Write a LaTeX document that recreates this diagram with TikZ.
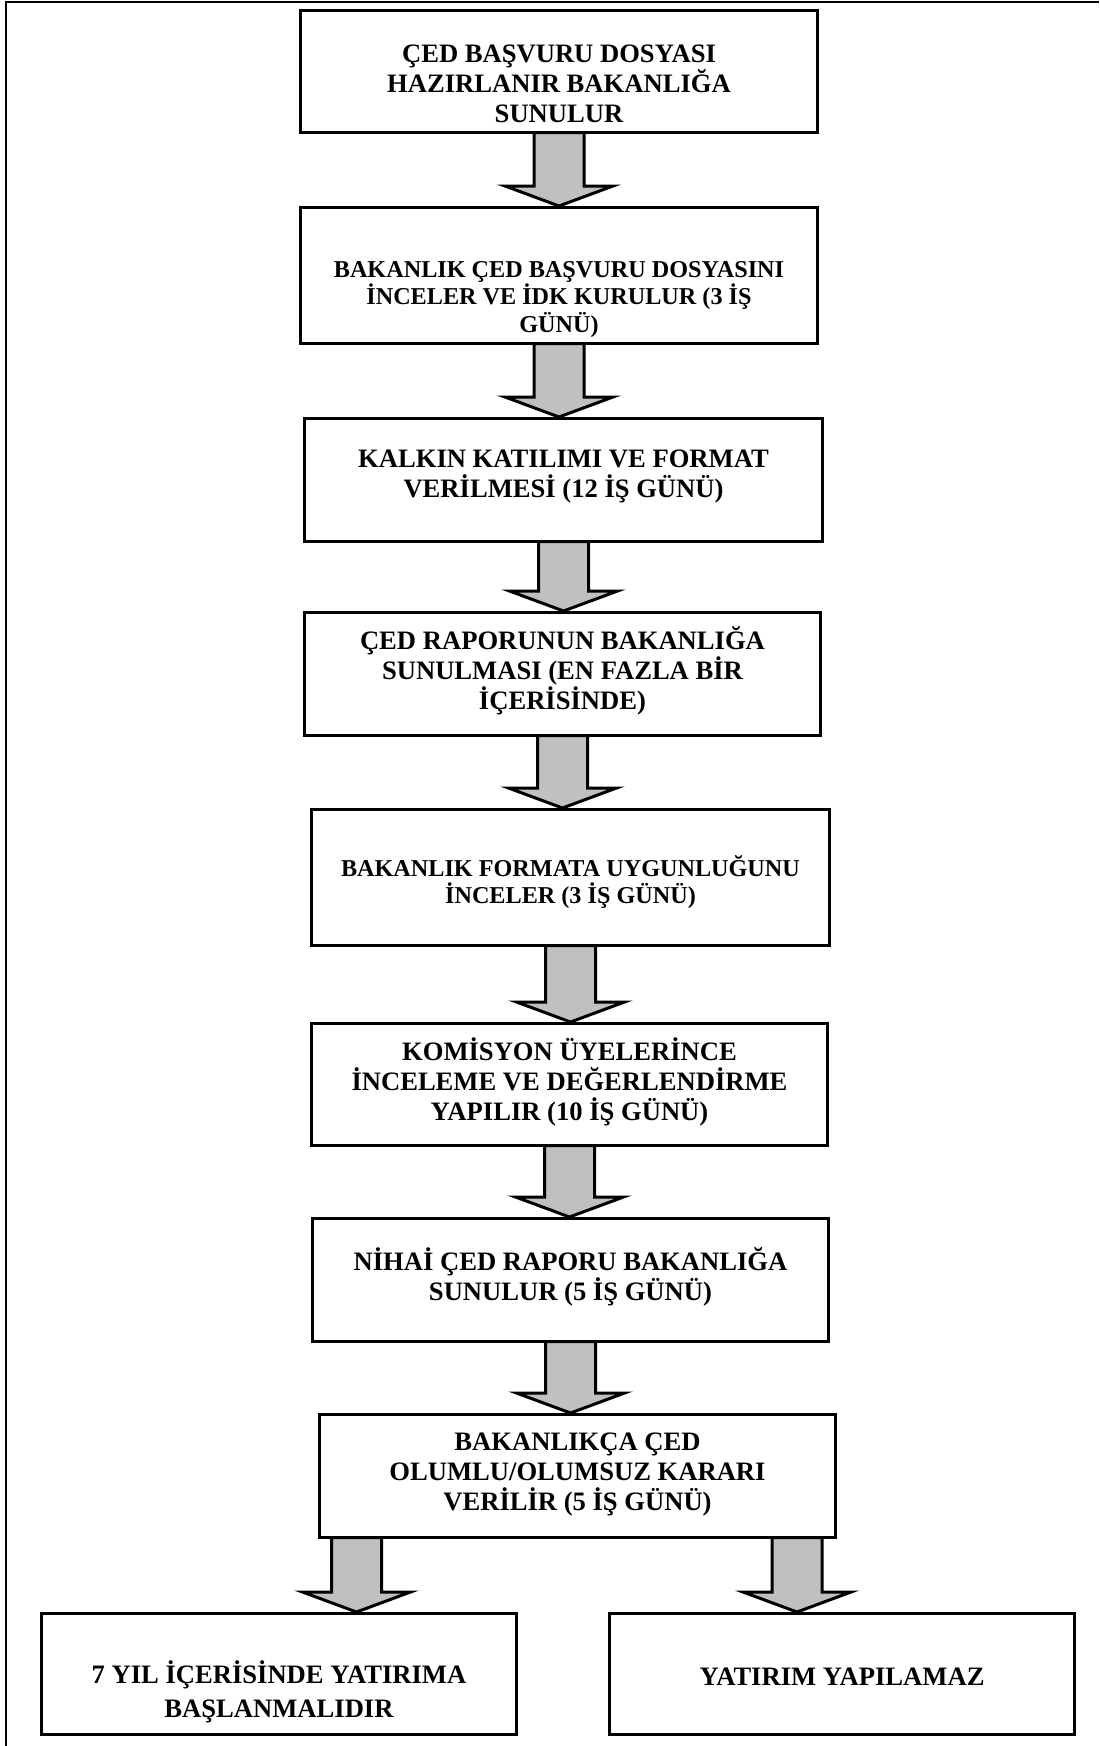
\documentclass[tikz,border=0pt]{standalone}
\usepackage{fontspec}
\setmainfont{Liberation Serif}
\usepackage{tikz}
\usetikzlibrary{calc}
\definecolor{okgri}{RGB}{192,192,192}
\tikzstyle{kutu}=[draw, rectangle, line width=1.5pt, inner sep=0pt]
\tikzstyle{yazi}=[align=center, font=\fontsize{13.3}{15}\selectfont\bfseries]
\tikzstyle{kucuk}=[font=\fontsize{12.1}{13.75}\selectfont\bfseries]
\tikzstyle{blok}=[draw, line width=1.5pt, fill=okgri, line join=miter]
% block arrow: #1 start on the box above, #2 tip on the box below
\newcommand{\okciz}[2]{%
\draw[blok] ([xshift=-12.5pt,yshift=0.75pt]#1) -- ([xshift=-12.5pt,yshift=10pt]#2)
  -- ([xshift=-27pt,yshift=10pt]#2) -- (#2) -- ([xshift=27pt,yshift=10pt]#2)
  -- ([xshift=12.5pt,yshift=10pt]#2) -- ([xshift=12.5pt,yshift=0.75pt]#1) -- cycle;}

\begin{document}
\begin{tikzpicture}[x=0.5pt, y=-0.5pt]
\useasboundingbox (0,0) rectangle (1099,1746);

% frame
\draw[line width=1pt] (6,1746) -- (6,2) -- (1099,2);

\node[kutu, minimum width=258.5pt, minimum height=61pt] (k1) at (559, 71.5) {};
\node[kutu, minimum width=258.5pt, minimum height=68pt] (k2) at (559, 275.5) {};
\node[kutu, minimum width=259pt, minimum height=61.5pt] (k3) at (563.5, 480) {};
\node[kutu, minimum width=258pt, minimum height=61.5pt] (k4) at (562.5, 674) {};
\node[kutu, minimum width=259pt, minimum height=68pt] (k5) at (570.5, 877.5) {};
\node[kutu, minimum width=258pt, minimum height=61pt] (k6) at (569.5, 1084.5) {};
\node[kutu, minimum width=258pt, minimum height=61.5pt] (k7) at (570.5, 1280) {};
\node[kutu, minimum width=258pt, minimum height=61.5pt] (k8) at (577.5, 1476) {};
\node[kutu, minimum width=237.5pt, minimum height=60.5pt] (k9) at (279, 1674) {};
\node[kutu, minimum width=232.5pt, minimum height=60.5pt] (k10) at (842, 1674) {};

\node[yazi] (t1) at ([yshift=-6.25pt]k1.center) {ÇED BAŞVURU DOSYASI\\HAZIRLANIR BAKANLIĞA\\SUNULUR};
\node[yazi, kucuk] (t2) at ([yshift=-12pt]k2.center) {BAKANLIK ÇED BAŞVURU DOSYASINI\\İNCELER VE İDK KURULUR (3 İŞ\\GÜNÜ)};
\node[yazi] (t3) at ([yshift=1.5pt]k3.center) {KALKIN KATILIMI VE FORMAT\\VERİLMESİ (12 İŞ GÜNÜ)};
\node[yazi] (t4) at ([yshift=1.5pt]k4.center) {ÇED RAPORUNUN BAKANLIĞA\\SUNULMASI (EN FAZLA BİR\\İÇERİSİNDE)};
\node[yazi, kucuk] (t5) at ([yshift=-2.25pt]k5.center) {BAKANLIK FORMATA UYGUNLUĞUNU\\İNCELER (3 İŞ GÜNÜ)};
\node[yazi] (t6) at ([yshift=1.25pt]k6.center) {KOMİSYON ÜYELERİNCE\\İNCELEME VE DEĞERLENDİRME\\YAPILIR (10 İŞ GÜNÜ)};
\node[yazi] (t7) at ([yshift=1.5pt]k7.center) {NİHAİ ÇED RAPORU BAKANLIĞA\\SUNULUR (5 İŞ GÜNÜ)};
\node[yazi] (t8) at ([yshift=0.5pt]k8.center) {BAKANLIKÇA ÇED\\OLUMLU/OLUMSUZ KARARI\\VERİLİR (5 İŞ GÜNÜ)};
\node[yazi, font=\fontsize{13.3}{17}\selectfont\bfseries] (t9) at ([yshift=-9pt]k9.center) {7 YIL İÇERİSİNDE YATIRIMA\\BAŞLANMALIDIR};
\node[yazi] (t10) at ([yshift=-1.25pt]k10.center) {YATIRIM YAPILAMAZ};

% arrows
\coordinate (u1) at (k1.south |- k2.north);
\coordinate (u2) at (k2.south |- k3.north);
\coordinate (u3) at (k3.south |- k4.north);
\coordinate (u4) at (k4.south |- k5.north);
\coordinate (u5) at (k5.south |- k6.north);
\coordinate (u6) at (k6.south |- k7.north);
\coordinate (u7) at (k7.south |- k8.north);
\coordinate (s8) at ([xshift=19.25pt]k8.south west);
\coordinate (s9) at ([xshift=-20pt]k8.south east);
\coordinate (u8) at (s8 |- k9.north);
\coordinate (u9) at (s9 |- k10.north);

\okciz{k1.south}{u1}
\okciz{k2.south}{u2}
\okciz{k3.south}{u3}
\okciz{k4.south}{u4}
\okciz{k5.south}{u5}
\okciz{k6.south}{u6}
\okciz{k7.south}{u7}
\okciz{s8}{u8}
\okciz{s9}{u9}

\end{tikzpicture}
\end{document}
